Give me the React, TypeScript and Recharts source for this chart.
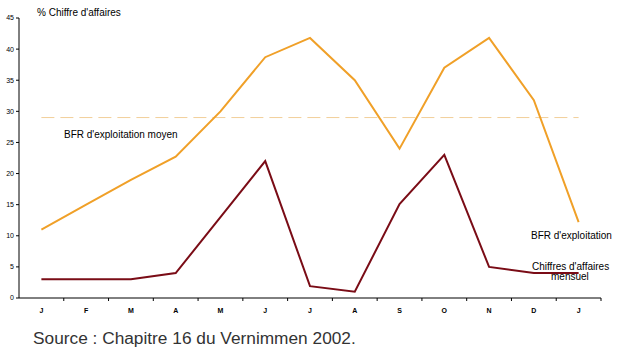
import React from "react";
import { LineChart, Line, XAxis, YAxis, ReferenceLine } from "recharts";

const months = ["J", "F", "M", "A", "M", "J", "J", "A", "S", "O", "N", "D", "J"];
const bfr = [11, 15, 19, 22.7, 30, 38.7, 41.8, 35, 24, 37, 41.8, 31.8, 12.2];
const chiffre = [3, 3, 3, 4, 13, 22, 1.9, 1, 15.1, 23, 5, 4, 4];
const bfrMoyen = 29;
const yTicks = [0, 5, 10, 15, 20, 25, 30, 35, 40, 45];

const data = months.map((m, i) => ({
  key: "k" + i,
  month: m,
  bfr: bfr[i],
  chiffre: chiffre[i],
}));

const FONT = "'Liberation Sans', Arial, sans-serif";
const STEP = (601 - 19) / 13;

const MonthTick = (props: any) => {
  const { x, y, payload, index } = props;
  return (
    <g>
      <line x1={x + STEP / 2} y1={y - 8} x2={x + STEP / 2} y2={y - 5} stroke="#000" />
      <text x={x} y={y + 7} textAnchor="middle" fontSize={7} fontWeight="bold" fontFamily={FONT} fill="#000">
        {months[index] ?? payload.value}
      </text>
    </g>
  );
};

const label = (left: number, top: number, text: string, size = 10) => (
  <div
    style={{
      position: "absolute",
      left,
      top,
      fontFamily: FONT,
      fontSize: size,
      color: "#000",
      whiteSpace: "nowrap",
      lineHeight: 1,
    }}
  >
    {text}
  </div>
);

export default function App() {
  return (
    <div style={{ position: "absolute", left: 0, top: 0, width: 617, height: 352, background: "#fff" }}>
      <LineChart
        width={617}
        height={320}
        data={data}
        margin={{ top: 18, right: 16, bottom: 0, left: 0 }}
      >
        <XAxis
          dataKey="key"
          padding={{ left: STEP / 2, right: STEP / 2 }}
          axisLine={{ stroke: "#000" }}
          tickLine={false}
          tick={<MonthTick />}
          height={22}
          interval={0}
        />
        <YAxis
          domain={[0, 45]}
          ticks={yTicks}
          width={19}
          axisLine={{ stroke: "#000" }}
          tickLine={{ stroke: "#000" }}
          tickSize={3}
          tick={{ fontSize: 7, fontFamily: FONT, fill: "#000" }}
          interval={0}
        />
        <ReferenceLine
          segment={[
            { x: "k0", y: bfrMoyen },
            { x: "k12", y: bfrMoyen },
          ]}
          stroke="#f2cf9a"
          strokeDasharray="13 6"
        />
        <Line
          type="linear"
          dataKey="bfr"
          stroke="#f0a028"
          strokeWidth={2}
          dot={false}
          isAnimationActive={false}
        />
        <Line
          type="linear"
          dataKey="chiffre"
          stroke="#7a0c16"
          strokeWidth={2}
          dot={false}
          isAnimationActive={false}
        />
      </LineChart>
      {label(37, 8, "% Chiffre d'affaires")}
      {label(64, 130, "BFR d'exploitation moyen")}
      {label(531, 231, "BFR d'exploitation")}
      {label(532, 262, "Chiffres d'affaires")}
      {label(551, 272, "mensuel")}
      <div
        style={{
          position: "absolute",
          left: 33,
          top: 330,
          fontFamily: FONT,
          fontSize: 17.3,
          color: "#333",
          whiteSpace: "nowrap",
          lineHeight: 1,
        }}
      >
        Source : Chapitre 16 du Vernimmen 2002.
      </div>
    </div>
  );
}
